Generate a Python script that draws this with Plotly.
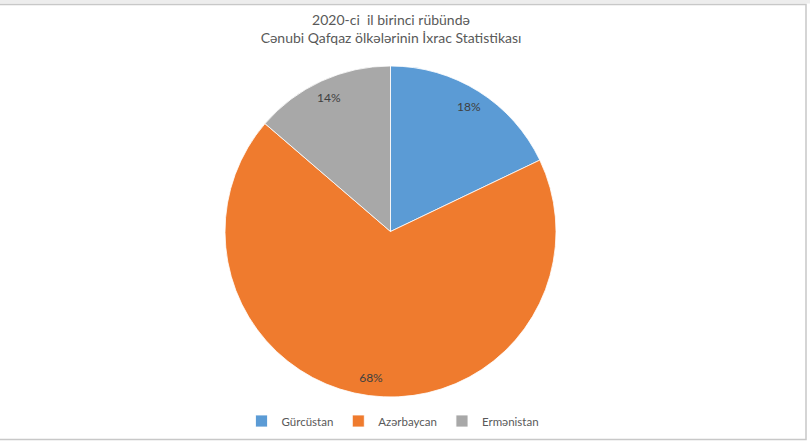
import plotly.graph_objects as go

countries = ["Gürcüstan", "Azərbaycan", "Ermənistan"]
export_share = [17.9, 68.4, 13.7]
slice_colors = ["#5B9BD5", "#EF7B2E", "#A8A8A8"]

title_lines = ["2020-ci  il birinci rübündə", "Cənubi Qafqaz ölkələrinin İxrac Statistikası"]

W, H = 810, 444
cx, cy, r = 390.5, 231.5, 165.5
dom_x = [(cx - r) / W, (cx + r) / W]
dom_y = [1 - (cy + r) / H, 1 - (cy - r) / H]

fig = go.Figure()
# filled pie (legend)
fig.add_trace(go.Pie(
    labels=countries, values=export_share, sort=False, direction="clockwise",
    rotation=0, marker=dict(colors=slice_colors, line=dict(color="white", width=0.8)),
    textinfo="none", hoverinfo="label+percent", domain=dict(x=dom_x, y=dom_y),
    showlegend=True,
))
# transparent ring carrying the percentage labels near the outer edge
fig.add_trace(go.Pie(
    labels=countries, values=export_share, sort=False, direction="clockwise",
    rotation=0, hole=0.78,
    marker=dict(colors=["rgba(0,0,0,0)"] * 3, line=dict(width=0)),
    texttemplate="%{percent:.0%}", textposition="inside",
    insidetextorientation="horizontal",
    textfont=dict(family="Lato, Open Sans, sans-serif", size=12, color="#404040"),
    hoverinfo="skip", domain=dict(x=dom_x, y=dom_y), showlegend=False,
))

fig.update_layout(
    width=W, height=H,
    margin=dict(l=0, r=0, t=0, b=0),
    paper_bgcolor="white", plot_bgcolor="white",
    title=dict(
        text="<br>".join(title_lines),
        x=391 / W, xanchor="center", xref="paper",
        y=1 - 25 / H, yanchor="top", yref="container",
        font=dict(family="Lato, Open Sans, sans-serif", size=14, color="#595959"),
    ),
    legend=dict(
        orientation="h", x=393 / W, xanchor="center", y=1 - 421 / H, yanchor="middle",
        font=dict(family="Lato, Open Sans, sans-serif", size=11.5, color="#595959"),
        itemwidth=30, bgcolor="rgba(0,0,0,0)", traceorder="normal",
    ),
    shapes=[
        dict(type="rect", xref="paper", yref="paper", x0=-0.01, x1=1.01,
             y0=1 - 3.5 / H, y1=1.01, fillcolor="#EDEDED", line=dict(width=0), layer="below"),
        dict(type="rect", xref="paper", yref="paper", x0=-0.01, x1=806 / W,
             y0=1 - 439.5 / H, y1=1 - 4.5 / H, fillcolor="rgba(0,0,0,0)",
             line=dict(color="#C8C8C8", width=1.5)),
    ],
)

fig.write_html("out.html", config={"displayModeBar": False},
               post_script="document.body.style.margin='0';")
